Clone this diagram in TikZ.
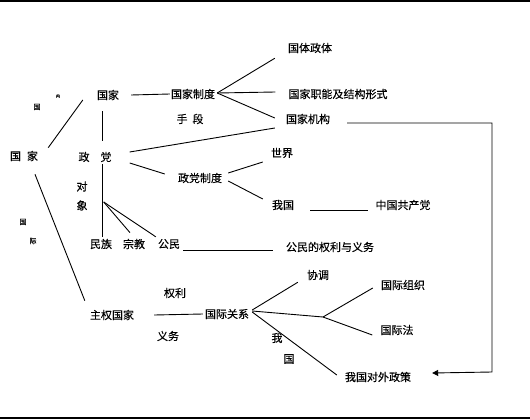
\documentclass[tikz,border=0pt]{standalone}
\usepackage{fontspec}
\usepackage{tikz}
\usetikzlibrary{arrows.meta}
\newfontfamily\cjk[FakeBold=0.3]{Noto Sans CJK SC}

\begin{document}
\begin{tikzpicture}[x=1pt, y=-1pt,
    word/.style={inner sep=2pt, font=\cjk\fontsize{11}{13}\selectfont},
    small word/.style={inner sep=1pt, font=\cjk\fontsize{7}{8}\selectfont},
    link/.style={line width=0.9pt}]
    \useasboundingbox (0,0) rectangle (530,420);

    % Frame lines
    \draw[line width=1.3pt] (0,1) -- (530,1);
    \draw[line width=1.3pt] (0,418) -- (530,418);

    % State side
    \node[word] (gjL) at (24,156) {国\hspace{6pt}家};
    \node[small word] (gn1) at (37,107) {国};
    \node[small word] (gn2) at (58,96) {\fontsize{4}{5}\selectfont 内};
    \node[small word] (gi1) at (23,222) {国};
    \node[small word] (gi2) at (33,241) {际};
    \node[word] (gj) at (108,95) {国家};
    \node[word] (gjzd) at (193,94) {国家制度};
    \node[word] (sd) at (190,119) {手\hspace{5pt}段};
    \node[word] (gtzt) at (310,48) {国体政体};
    \node[word] (gjzn) at (338,94) {国家职能及结构形式};
    \node[word] (gjjg) at (308,119) {国家机构};

    % Party side
    \node[word] (zd) at (95,157) {政\hspace{11pt}党};
    \node[word, align=center, font=\cjk\fontsize{11}{19}\selectfont] (dx) at (82,196) {对\\象};
    \node[word] (zdzd) at (200,178) {政党制度};
    \node[word] (sj) at (282,153) {世界};
    \node[word] (wg) at (283,205) {我国};
    \node[word] (zggcd) at (403,205) {中国共产党};
    \node[word] (mz) at (101,244) {民族};
    \node[word] (zj) at (134,244) {宗教};
    \node[word] (gm) at (169,244) {公民};
    \node[word] (qlyw) at (330,247) {公民的权利与义务};

    % International side
    \node[word] (zqgj) at (112,315) {主权国家};
    \node[word] (ql) at (175,293) {权利};
    \node[word] (yw) at (168,336) {义务};
    \node[word] (gjgx) at (227,314) {国际关系};
    \node[word] (xt) at (318,275) {协调};
    \node[word] (gjzz) at (403,285) {国际组织};
    \node[word] (gjf) at (397,330) {国际法};
    \node[word] (w1) at (277,338) {我};
    \node[word] (g1) at (289,359) {国};
    \node[word] (dwzc) at (378,377) {我国对外政策};
    \coordinate (br) at (323,317);
    \coordinate (c1) at (492,123);
    \coordinate (c2) at (492,372);

    % Connectors
    \draw[link] ([shift={(8,-1)}]gjL.north east) -- ([shift={(-12,5)}]gj.west);
    \draw[link] ([shift={(11,11)}]gjL.south) -- ([shift={(-3,-7)}]zqgj.north west);
    \draw[link] ([shift={(-6,9)}]gj.south) -- ([shift={(7,-9)}]zd.north);
    \draw[link] ([shift={(7,0)}]zd.south) -- ([shift={(1,0)}]mz.north);
    \draw[link] ([shift={(10,0)}]gj.east) -- ([shift={(1,0)}]gjzd.west);
    \draw[link] ([shift={(0,-1)}]gjzd.east) -- ([shift={(-11,3)}]gtzt.south west);
    \draw[link] ([shift={(0,-1)}]gjzd.east) -- ([shift={(-11,-2)}]gjzn.west);
    \draw[link] ([shift={(0,-1)}]gjzd.east) -- ([shift={(-9,-1)}]gjjg.west);
    \draw[link] ([shift={(16,-5)}]zd.east) -- ([shift={(-9,9)}]gjjg.west);
    \draw[link] ([shift={(16,6)}]zd.east) -- ([shift={(-11,-4)}]zdzd.west);
    \draw[link] ([shift={(4,-5)}]zdzd.east) -- ([shift={(-6,9)}]sj.west);
    \draw[link] ([shift={(4,3)}]zdzd.east) -- ([shift={(-7,-6)}]wg.west);
    \draw[link] ([shift={(14,5)}]wg.east) -- ([shift={(-5,5)}]zggcd.west);
    \draw[link] ([shift={(14,6)}]dx.east) -- ([shift={(-4,-4)}]zj.north);
    \draw[link] ([shift={(14,6)}]dx.east) -- (gm.north west);
    \draw[link] ([shift={(1,6)}]gm.east) -- ([shift={(-11,3)}]qlyw.west);
    \draw[link] ([shift={(18,0)}]zqgj.east) -- (gjgx.west);
    \draw[link] ([shift={(1,-4)}]gjgx.east) -- ([shift={(-7,0)}]xt.south west);
    \draw[link] ([shift={(1,-3)}]gjgx.east) -- (br);
    \draw[link] (br) -- ([shift={(-6,3)}]gjzz.west);
    \draw[link] (br) -- ([shift={(-6,5)}]gjf.west);
    \draw[link] ([shift={(1,-2)}]gjgx.east) -- ([shift={(-6,-2)}]dwzc.west);
    \draw[link, -{Triangle[length=6pt, width=6pt]}] ([shift={(15,4)}]gjjg.east) -- (c1) -- (c2) -- ([shift={(19,-4)}]dwzc.east);
\end{tikzpicture}
\end{document}
